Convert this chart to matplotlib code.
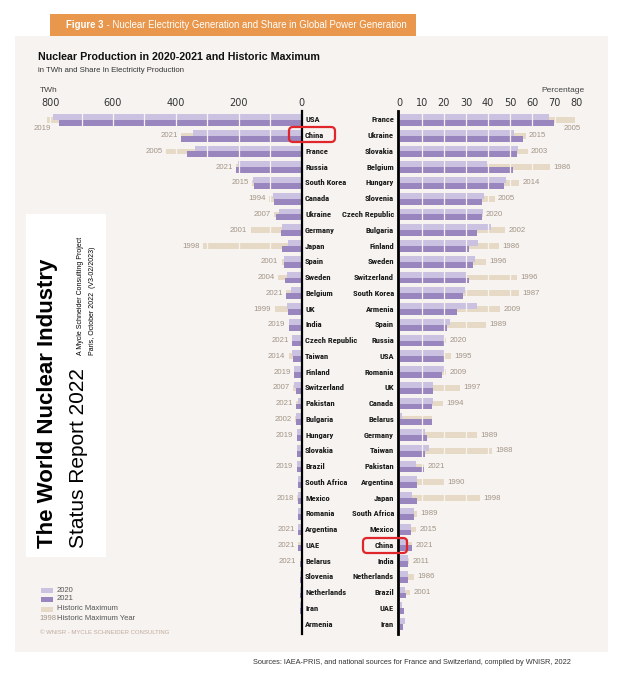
import numpy as np
import matplotlib
matplotlib.use("Agg")
import matplotlib.pyplot as plt
from matplotlib.patches import Rectangle, FancyBboxPatch
from matplotlib.lines import Line2D
import matplotlib.transforms as mtrans
from matplotlib import font_manager

# ---------------- data ----------------
twh_countries = ["USA", "China", "France", "Russia", "South Korea", "Canada", "Ukraine",
                 "Germany", "Japan", "Spain", "Sweden", "Belgium", "UK", "India",
                 "Czech Republic", "Taiwan", "Finland", "Switzerland", "Pakistan",
                 "Bulgaria", "Hungary", "Slovakia", "Brazil", "South Africa", "Mexico",
                 "Romania", "Argentina", "UAE", "Belarus", "Slovenia", "Netherlands",
                 "Iran", "Armenia"]
twh_2020 = [790, 345, 338, 201, 152.6, 92, 71.5, 61, 43, 55.8, 47.4, 32.8, 45.7, 40.4,
            28.4, 30.3, 22.4, 23.0, 9.6, 15.9, 15.2, 14.4, 13.2, 11.6, 10.9, 10.6, 10.0,
            1.6, 0.3, 6.0, 3.9, 5.8, 2.6]
twh_2021 = [772, 383, 363, 208, 150.5, 87, 81, 65.4, 61.3, 54.2, 51.4, 48.0, 41.8, 39.8,
            29.0, 26.8, 22.6, 18.6, 15.8, 15.8, 15.1, 14.6, 13.9, 12.2, 11.6, 10.4, 10.2,
            10.1, 5.4, 5.4, 3.6, 3.2, 1.9]
twh_max = [809, 383, 431, 208, 157.2, 102, 87.2, 162, 313, 63, 75, 48.0, 85, 40.7,
           29.0, 40.8, 22.9, 26.5, 15.8, 20.2, 15.4, np.nan, 15.2, np.nan, 13.2, np.nan,
           10.2, 10.1, 5.4, np.nan, np.nan, np.nan, np.nan]
twh_max_year = ["2019", "2021", "2005", "2021", "2015", "1994", "2007", "2001", "1998",
                "2001", "2004", "2021", "1999", "2019", "2021", "2014", "2019", "2007",
                "2021", "2002", "2019", "", "2019", "", "2018", "", "2021", "2021",
                "2021", "", "", "", ""]

share_countries = ["France", "Ukraine", "Slovakia", "Belgium", "Hungary", "Slovenia",
                   "Czech Republic", "Bulgaria", "Finland", "Sweden", "Switzerland",
                   "South Korea", "Armenia", "Spain", "Russia", "USA", "Romania", "UK",
                   "Canada", "Belarus", "Germany", "Taiwan", "Pakistan", "Argentina",
                   "Japan", "South Africa", "Mexico", "China", "India", "Netherlands",
                   "Brazil", "UAE", "Iran"]
share_2020 = [67.4, 51.5, 53.3, 39.6, 48.2, 38.0, 37.5, 41.1, 35.2, 34.2, 30.1, 29.5,
              34.8, 22.8, 20.5, 20.2, 20.2, 14.9, 14.9, 1.2, 11.6, 13.4, 7.5, 7.9, 5.5,
              6.5, 5.1, 3.6, 3.9, 3.9, 2.4, 1.2, 2.4]
share_2021 = [69.7, 55.6, 53.0, 51.0, 47.1, 37.2, 37.2, 34.9, 31.2, 33.0, 31.2, 28.5,
              25.9, 21.4, 20.2, 19.9, 19.1, 14.9, 14.5, 14.5, 12.4, 11.3, 10.9, 7.9, 7.9,
              6.5, 5.3, 5.5, 3.9, 3.6, 2.9, 2.0, 1.5]
share_max = [79.2, 56.9, 57.8, 67.8, 53.9, 42.9, 37.5, 47.6, 44.7, 38.9, 53.0, 53.9,
             45.3, 38.9, 20.9, 23.2, 20.9, 27.3, 19.5, 14.5, 34.8, 41.6, 10.9, 20.0,
             36.3, 7.7, 7.3, 5.5, 4.1, 6.4, 4.7, np.nan, np.nan]
share_max_year = ["2005", "2015", "2003", "1986", "2014", "2005", "2020", "2002", "1986",
                  "1996", "1996", "1987", "2009", "1989", "2020", "1995", "2009", "1997",
                  "1994", "", "1989", "1988", "2021", "1990", "1998", "1989", "2015",
                  "2021", "2011", "1986", "2001", "", ""]

twh_ticks = [800, 600, 400, 200, 0]
share_ticks = [0, 10, 20, 30, 40, 50, 60, 70, 80]

# ---------------- style ----------------
BG = "#f6f3f1"
C20 = "#cbc2e2"
C21 = "#9a86bf"
CMAX = "#e6dac6"
YEARC = "#a39485"
ORANGE = "#e8974c"
RED = "#e0262b"
SANS = ["Liberation Sans", "DejaVu Sans"]

# pick a narrow font if one exists
_fonts = [(f.name, f.stretch) for f in font_manager.fontManager.ttflist]
_names = {n for n, s in _fonts}
NARROW_KW = dict(family=SANS)
NSCALE = 0.82
for cand in ["Roboto Condensed", "Liberation Sans Narrow", "Open Sans Condensed",
             "Noto Sans Condensed", "DejaVu Sans Condensed", "Arial Narrow"]:
    if cand in _names:
        NARROW_KW = dict(family=[cand, "DejaVu Sans"])
        NSCALE = 1.0
        break
else:
    for n, s in _fonts:
        if n in ("DejaVu Sans", "Noto Sans", "Open Sans", "Roboto") and str(s) in (
                "condensed", "semi-condensed", "75", "87"):
            NARROW_KW = dict(family=[n], stretch="condensed")
            NSCALE = 1.0 if str(s) in ("condensed", "75") else 0.92
            break

W, H = 625, 677
fig = plt.figure(figsize=(W / 100, H / 100), dpi=100)
fig.patch.set_facecolor("white")


def fx(px):
    return px / W


def fy(py):
    return 1 - py / H


def px_axes(x0, x1, y0, y1):
    ax = fig.add_axes([fx(x0), fy(y1), (x1 - x0) / W, (y1 - y0) / H])
    ax.set_facecolor("none")
    for s in ax.spines.values():
        s.set_visible(False)
    return ax


# panel background & header
fig.add_artist(Rectangle((fx(15), fy(652)), fx(608) - fx(15), fy(36) - fy(652),
                         transform=fig.transFigure, facecolor=BG, edgecolor="none", zorder=0))
fig.add_artist(Rectangle((fx(50), fy(36)), fx(416) - fx(50), fy(14) - fy(36),
                         transform=fig.transFigure, facecolor=ORANGE, edgecolor="none", zorder=1))
t1 = fig.text(fx(66), fy(25.5), "Figure 3", color="white", fontsize=6.9, fontweight="bold",
              family=SANS, va="center", ha="left")
renderer = fig.canvas.get_renderer()
bb = t1.get_window_extent(renderer)
fig.text(bb.x1 / W, fy(25.5), " - Nuclear Electricity Generation and Share in Global Power Generation",
         color="white", fontsize=6.9, family=SANS, va="center", ha="left")

fig.text(fx(38), fy(57), "Nuclear Production in 2020-2021 and Historic Maximum", fontsize=7.7,
         fontweight="bold", family=SANS, color="#111111", va="center")
fig.text(fx(38), fy(71), "in TWh and Share In Electricity Production", fontsize=5.6,
         family=SANS, color="#333333", va="center")
fig.text(fx(40), fy(90), "TWh", fontsize=6, family=SANS, color="#444444", va="center")
fig.text(fx(585), fy(90), "Percentage", fontsize=6, family=SANS, color="#444444",
         va="center", ha="right")

n = len(twh_countries)
y = np.arange(n)
Y0, Y1 = 111, 634
ylim = (n - 1 + 0.63, -0.57)
CFS = 6.1 * NSCALE

# ---------------- left panel ----------------
axL = px_axes(40, 301.4, Y0, Y1)
axL.set_xlim(832.5, 0)
axL.set_ylim(*ylim)
axL.barh(y, np.nan_to_num(twh_max), height=0.36, color=CMAX, zorder=1)
axL.barh(y - 0.185, twh_2020, height=0.37, color=C20, zorder=2)
axL.barh(y + 0.185, twh_2021, height=0.37, color=C21, zorder=2)
for v in range(100, 900, 100):
    axL.axvline(v, color=BG, lw=0.9, zorder=3)
axL.xaxis.tick_top()
axL.set_xticks(twh_ticks)
axL.set_xticklabels([str(t) for t in twh_ticks])
axL.tick_params(axis="x", length=0, pad=2, labelsize=7, labelcolor="#333333")
axL.set_yticks([])
for i in range(n):
    yr = twh_max_year[i]
    if not yr:
        continue
    ext = np.nanmax([twh_2020[i], twh_2021[i], twh_max[i]])
    if i == 0:
        axL.annotate(yr, (ext, i), xytext=(-4, -6), textcoords="offset points",
                     ha="center", va="center", fontsize=5.6, color=YEARC, family=SANS)
    else:
        axL.annotate(yr, (ext, i), xytext=(-2.5, 0), textcoords="offset points",
                     ha="right", va="center", fontsize=5.6, color=YEARC, family=SANS)
trL = mtrans.blended_transform_factory(fig.transFigure, axL.transData)
for i, c in enumerate(twh_countries):
    fig.text(fx(305), i, c, transform=trL, fontsize=CFS, fontweight="bold",
             color="#1a1a1a", va="center", ha="left", **NARROW_KW)

# ---------------- right panel ----------------
axR = px_axes(399.6, 592, Y0, Y1)
axR.set_xlim(0, 86.9)
axR.set_ylim(*ylim)
axR.barh(y, np.nan_to_num(share_max), height=0.36, color=CMAX, zorder=1)
axR.barh(y - 0.185, share_2020, height=0.37, color=C20, zorder=2)
axR.barh(y + 0.185, share_2021, height=0.37, color=C21, zorder=2)
for v in range(10, 90, 10):
    axR.axvline(v, color=BG, lw=0.9, zorder=3)
axR.xaxis.tick_top()
axR.set_xticks(share_ticks)
axR.set_xticklabels([str(t) for t in share_ticks])
axR.tick_params(axis="x", length=0, pad=2, labelsize=7, labelcolor="#333333")
axR.set_yticks([])
for i in range(n):
    yr = share_max_year[i]
    if not yr:
        continue
    ext = np.nanmax([share_2020[i], share_2021[i], share_max[i]])
    if i == 0:
        axR.annotate(yr, (ext, i), xytext=(4, -6), textcoords="offset points",
                     ha="right", va="center", fontsize=5.6, color=YEARC, family=SANS)
    else:
        axR.annotate(yr, (ext, i), xytext=(2.5, 0), textcoords="offset points",
                     ha="left", va="center", fontsize=5.6, color=YEARC, family=SANS)
trR = mtrans.blended_transform_factory(fig.transFigure, axR.transData)
for i, c in enumerate(share_countries):
    fig.text(fx(394), i, c, transform=trR, fontsize=CFS, fontweight="bold",
             color="#1a1a1a", va="center", ha="right", **NARROW_KW)

# axis lines
fig.add_artist(Line2D([fx(301.5), fx(301.5)], [fy(Y0), fy(Y1)], lw=1.6, color="black",
                      transform=fig.transFigure, zorder=5))
fig.add_artist(Line2D([fx(397.8), fx(397.8)], [fy(Y0), fy(Y1)], lw=2.0, color="black",
                      transform=fig.transFigure, zorder=5))

# red highlight boxes
ident = mtrans.IdentityTransform()
for (bx0, by0, bx1, by1) in [(289, 127, 335, 142), (363, 538, 407, 553)]:
    fig.add_artist(FancyBboxPatch((bx0, H - by1), bx1 - bx0, by1 - by0,
                                  boxstyle="round,pad=0,rounding_size=4", transform=ident,
                                  fill=False, edgecolor=RED, lw=1.6, zorder=6))

# book cover
fig.add_artist(Rectangle((fx(26), fy(557)), fx(106) - fx(26), fy(214) - fy(557),
                         transform=fig.transFigure, facecolor="white", edgecolor="none", zorder=1))
fig.text(fx(53), fy(548), "The World Nuclear Industry", rotation=90, rotation_mode="anchor",
         ha="left", va="baseline", fontsize=16, fontweight="bold", family=SANS, color="black")
fig.text(fx(84), fy(548), "Status Report 2022", rotation=90, rotation_mode="anchor",
         ha="left", va="baseline", fontsize=15, family=SANS, color="black")
fig.text(fx(82), fy(355), "A Mycle Schneider Consulting Project", rotation=90,
         rotation_mode="anchor", ha="left", va="baseline", fontsize=5, family=SANS, color="black")
fig.text(fx(94), fy(355), "Paris, October 2022  (V3-02/2023)", rotation=90,
         rotation_mode="anchor", ha="left", va="baseline", fontsize=5, family=SANS, color="black")

# legend
leg_items = [(590, C20, "2020"), (599, C21, "2021"), (609, CMAX, "Historic Maximum")]
for (ly, col, lab) in leg_items:
    fig.add_artist(Rectangle((fx(41), fy(ly + 2.5)), fx(53) - fx(41), 5 / H,
                             transform=fig.transFigure, facecolor=col, edgecolor="none"))
    fig.text(fx(57), fy(ly), lab, fontsize=5.5, family=SANS, color="#555555", va="center")
fig.text(fx(39), fy(618), "1998", fontsize=5.5, family=SANS, color=YEARC, va="center")
fig.text(fx(57), fy(618), "Historic Maximum Year", fontsize=5.5, family=SANS, color="#555555",
         va="center")
fig.text(fx(40), fy(633), "© WNISR - MYCLE SCHNEIDER CONSULTING", fontsize=4.3, family=SANS,
         color="#c2ab9c", va="center")

fig.text(fx(253), fy(662), "Sources: IAEA-PRIS, and national sources for France and Switzerland, compiled by WNISR, 2022",
         fontsize=5.3, family=SANS, color="#333333", va="center")

fig.savefig("out.png", dpi=100, facecolor="white")
